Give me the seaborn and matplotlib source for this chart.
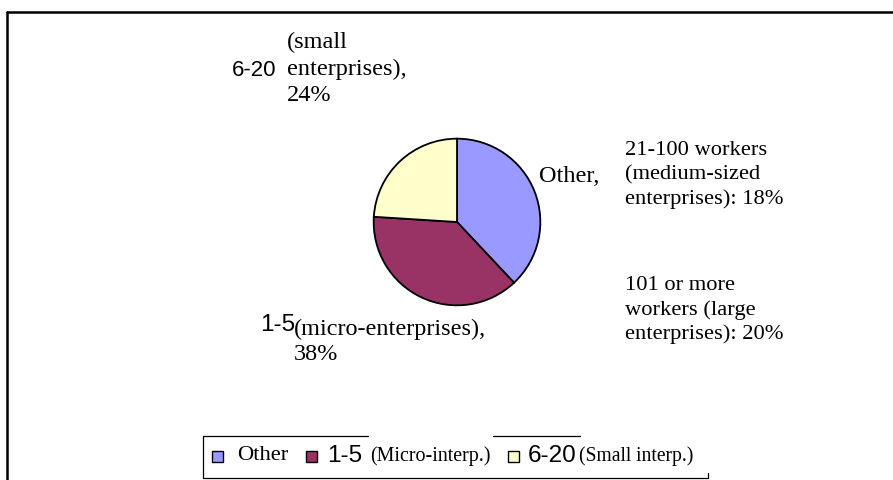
import matplotlib
matplotlib.use("Agg")
import matplotlib.pyplot as plt
import seaborn as sns
from matplotlib.patches import Rectangle
from matplotlib.lines import Line2D

# slice data, clockwise from 12 o'clock
slice_names = ["Other", "1-5", "6-20"]
slice_share = [38, 38, 24]
slice_colors = ["#9999FF", "#993366", "#FFFFCC"]

# legend texts
legend_codes = ["", "1-5", "6-20"]
legend_notes = ["Other", "(Micro-interp.)", "(Small interp.)"]

W, H = 893, 480
SERIF = "Liberation Serif"
SANS = "Liberation Sans"

sns.set_theme(style="white")
plt.rcParams["font.family"] = [SERIF, "DejaVu Serif"]

fig = plt.figure(figsize=(W / 100, H / 100), dpi=100)
fig.patch.set_facecolor("white")


def fx(px):
    return px / W


def fy(py):
    return 1 - py / H


def txt(x, y, s, family=SERIF, size=14, ls=1.33, **kw):
    fig.text(fx(x), fy(y), s, family=family, fontsize=size, va="center",
             ha="left", linespacing=ls, color="black", **kw)


# outer frame (runs off the right and bottom edges)
fig.add_artist(Line2D([fx(7), fx(W + 5)], [fy(12), fy(12)], color="black", lw=1.8))
fig.add_artist(Line2D([fx(7), fx(7)], [fy(12), fy(H + 5)], color="black", lw=1.8))

# pie
cx, cy, r = 457, 222, 85
ax = fig.add_axes([fx(cx - r), fy(cy + r), 2 * r / W, 2 * r / H])
ax.pie(slice_share, colors=slice_colors, startangle=90, counterclock=False,
       radius=1, wedgeprops=dict(edgecolor="black", linewidth=1.3))
ax.set_xlim(-1.02, 1.02)
ax.set_ylim(-1.02, 1.02)
ax.set_aspect("equal")
ax.axis("off")

# data labels
txt(287, 69, "(small\nenterprises),\n24%", size=17.5, ls=1.32)
txt(232, 70, slice_names[2], family=SANS, size=16)
txt(539, 177, "Other,", size=17.5)
txt(625, 175, "21-100 workers\n(medium-sized\nenterprises): 18%", size=16.2, ls=1.35)
txt(625, 310, "101 or more\nworkers (large\nenterprises): 20%", size=16.2, ls=1.35)
txt(260, 325, slice_names[1], family=SANS, size=17.5)
txt(294, 342, "(micro-enterprises),\n38%", size=17.5, ls=1.3)

# legend box (drawn by hand; the original has broken top edge)
lb = dict(color="black", lw=0.9)
fig.add_artist(Line2D([fx(203), fx(368)], [fy(436), fy(436)], **lb))
fig.add_artist(Line2D([fx(493), fx(580)], [fy(436), fy(436)], **lb))
fig.add_artist(Line2D([fx(203), fx(203)], [fy(436), fy(478)], **lb))
fig.add_artist(Line2D([fx(203), fx(708)], [fy(478), fy(478)], **lb))
fig.add_artist(Line2D([fx(708), fx(708)], [fy(473), fy(478)], **lb))

sq_x = [212, 306, 508]
code_x = [None, 327, 528]
note_x = [237, 370, 579]
note_size = [16.2, 14.4, 14.1]
ly = 456
for i in range(3):
    fig.add_artist(Rectangle((fx(sq_x[i]), fy(ly + 5.5)), 11 / W, 11 / H,
                             facecolor=slice_colors[i], edgecolor="black",
                             lw=1.0, transform=fig.transFigure))
    if legend_codes[i]:
        txt(code_x[i], ly, legend_codes[i], family=SANS, size=17.5)
    txt(note_x[i], ly, legend_notes[i], size=note_size[i])

fig.savefig("out.png", dpi=100, facecolor="white")
